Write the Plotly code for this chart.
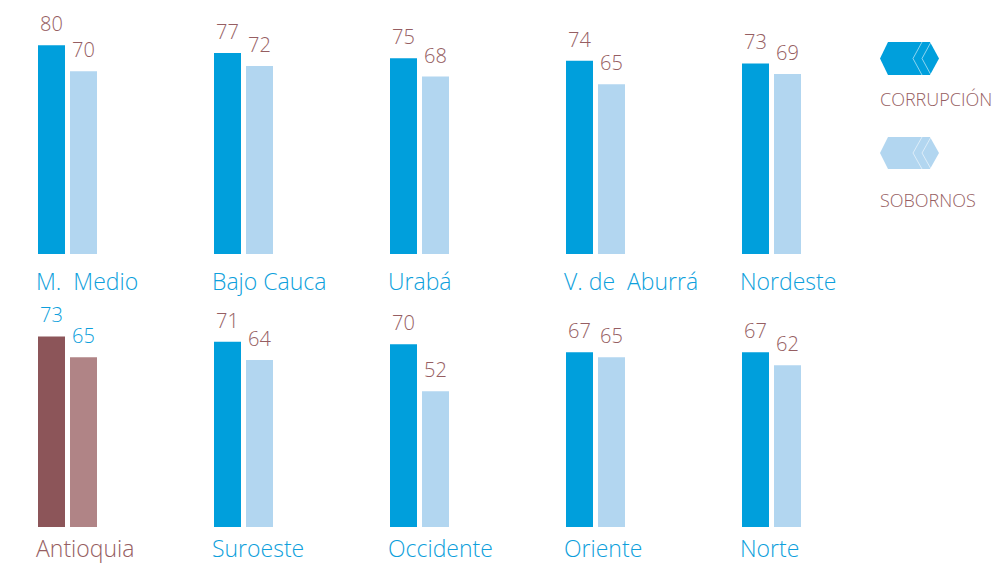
import plotly.graph_objects as go

# Two rows of subregions, each with a corruption and a bribery percentage
fila_1 = ["M.  Medio", "Bajo Cauca", "Urabá", "V. de  Aburrá", "Nordeste"]
corrupcion_1 = [80, 77, 75, 74, 73]
sobornos_1 = [70, 72, 68, 65, 69]

fila_2 = ["Antioquia", "Suroeste", "Occidente", "Oriente", "Norte"]
corrupcion_2 = [73, 71, 70, 67, 67]
sobornos_2 = [65, 64, 52, 65, 62]

leyenda = ["CORRUPCIÓN", "SOBORNOS"]

AZUL = "#009fdc"
AZUL_CLARO = "#b2d6f0"
VINO = "#8c5559"
VINO_CLARO = "#b08486"
TEXTO_VINO = "#965e62"
TEXTO_AZUL = "#0e9fdc"
FUENTE = "Open Sans"
PESO = 350

W, H = 997, 564
PX_X = 176.0      # pixels per category step
X0 = 67.5         # pixel of first category centre
PX_Y = 2.61       # pixels per percentage point
BAR_W = 27 / PX_X
GAP = 5 / PX_X

filas = [
    (fila_1, corrupcion_1, sobornos_1, "y", -27),
    (fila_2, corrupcion_2, sobornos_2, "y2", -21),
]

fig = go.Figure()
annotations = []

for nombres, corr, sob, yax, baja in filas:
    xs = list(range(len(nombres)))
    total = ["Antioquia" == n for n in nombres]
    c1 = [VINO if t else AZUL for t in total]
    c2 = [VINO_CLARO if t else AZUL_CLARO for t in total]
    fig.add_trace(go.Bar(
        x=xs, y=corr, yaxis=yax, marker=dict(color=c1, line=dict(width=0)),
        width=BAR_W, offset=-(BAR_W + GAP / 2), showlegend=False, hoverinfo="skip"))
    fig.add_trace(go.Bar(
        x=xs, y=sob, yaxis=yax, marker=dict(color=c2, line=dict(width=0)),
        width=BAR_W, offset=GAP / 2, showlegend=False, hoverinfo="skip"))

    for i, n in enumerate(nombres):
        tcol = TEXTO_AZUL if total[i] else TEXTO_VINO
        ncol = TEXTO_VINO if total[i] else TEXTO_AZUL
        for val, dx in ((corr[i], -(BAR_W + GAP) / 2), (sob[i], (BAR_W + GAP) / 2)):
            annotations.append(dict(
                x=i + dx, y=val, xref="x", yref=yax, text=str(val),
                showarrow=False, yanchor="bottom", xanchor="center", yshift=6,
                font=dict(family=FUENTE, size=20, color=tcol, weight=PESO)))
        annotations.append(dict(
            x=i - (BAR_W + GAP / 2), y=0, xref="x", yref=yax,
            text=n.replace("  ", " \u00a0"),
            showarrow=False, yanchor="middle", xanchor="left", xshift=-4, yshift=baja,
            font=dict(family=FUENTE, size=23, color=ncol, weight=PESO)))

# Legend: hexagonal swatches with chevron strokes
shapes = []

def px(x, y):
    return x / W, 1 - y / H

def hexagono(cx_left, ytop, ybot, color):
    ym = (ytop + ybot) / 2
    pts = [(cx_left, ym), (cx_left + 8, ytop), (cx_left + 50, ytop),
           (cx_left + 59, ym), (cx_left + 50, ybot), (cx_left + 8, ybot)]
    path = "M " + " L ".join(f"{px(*p)[0]},{px(*p)[1]}" for p in pts) + " Z"
    shapes.append(dict(type="path", path=path, xref="paper", yref="paper",
                       fillcolor=color, line=dict(width=0)))
    for off in (33, 42):
        c = [(cx_left + off + 9, ytop), (cx_left + off, ym), (cx_left + off + 9, ybot)]
        p = "M " + " L ".join(f"{px(*q)[0]},{px(*q)[1]}" for q in c)
        shapes.append(dict(type="path", path=p, xref="paper", yref="paper",
                           line=dict(color="rgba(255,255,255,0.55)", width=1)))

hexagono(880, 42, 75, AZUL)
hexagono(880, 137, 169, AZUL_CLARO)
for txt, ycen in zip(leyenda, (99, 200)):
    xx, yy = px(878, ycen)
    annotations.append(dict(x=xx, y=yy, xref="paper", yref="paper", text=txt,
                            showarrow=False, xanchor="left", yanchor="middle",
                            font=dict(family=FUENTE, size=18, color=TEXTO_VINO, weight=PESO)))

rango_y = [0, 254 / PX_Y]
fig.update_layout(
    width=W, height=H, margin=dict(l=0, r=0, t=0, b=0),
    paper_bgcolor="white", plot_bgcolor="rgba(0,0,0,0)",
    barmode="overlay",
    xaxis=dict(range=[-X0 / PX_X, (W - X0) / PX_X], visible=False, fixedrange=True),
    yaxis=dict(domain=[(H - 254) / H, 1], range=rango_y, visible=False),
    yaxis2=dict(domain=[(H - 527) / H, (H - 273) / H], range=rango_y, visible=False),
    annotations=annotations, shapes=shapes,
)

fig.write_html("out.html")
